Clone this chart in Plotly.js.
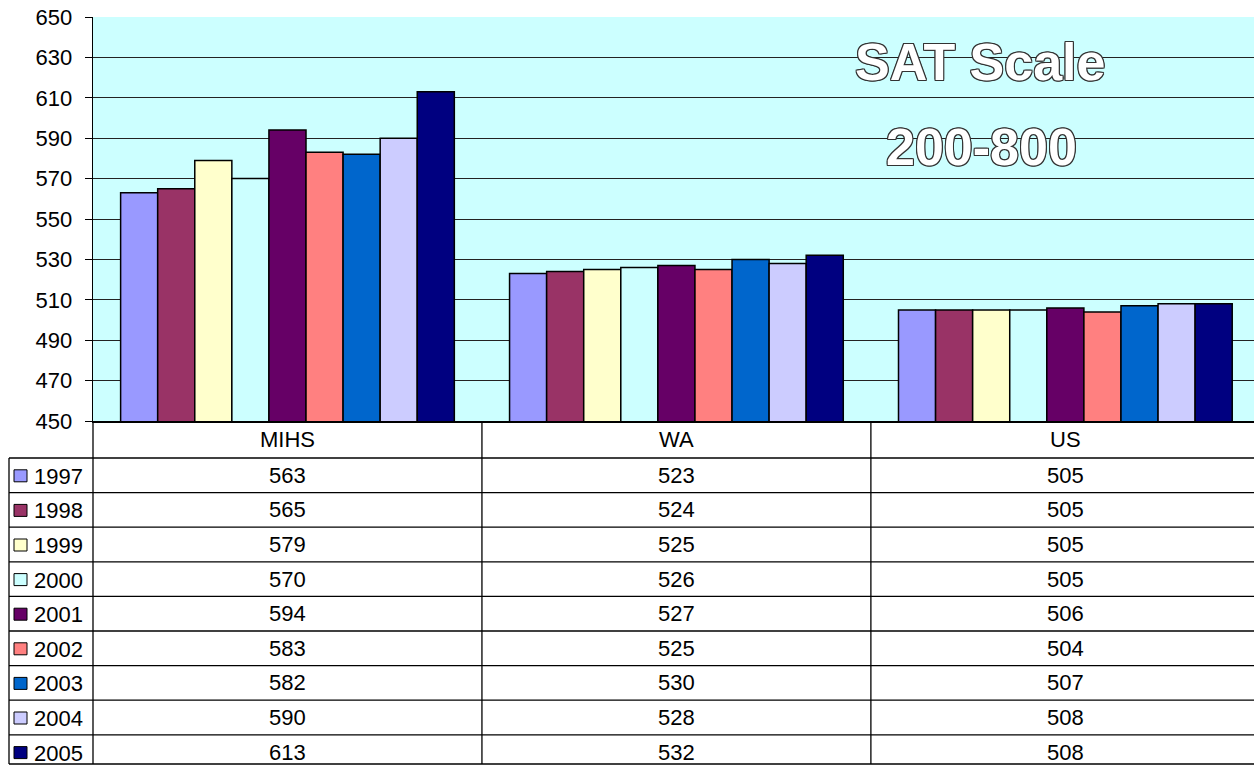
<!DOCTYPE html>
<html>
<head>
<meta charset="utf-8">
<script src="https://cdn.plot.ly/plotly-3.0.1.min.js"></script>
<style>html,body{margin:0;padding:0;background:#fff;}#chart{width:1254px;height:766px;}</style>
</head>
<body>
<div id="chart"></div>
<script>
const categories = ["MIHS", "WA", "US"];
const years = ["1997", "1998", "1999", "2000", "2001", "2002", "2003", "2004", "2005"];
const s1997 = [563, 523, 505];
const s1998 = [565, 524, 505];
const s1999 = [579, 525, 505];
const s2000 = [570, 526, 505];
const s2001 = [594, 527, 506];
const s2002 = [583, 525, 504];
const s2003 = [582, 530, 507];
const s2004 = [590, 528, 508];
const s2005 = [613, 532, 508];
const colors = ["#9999FF", "#993366", "#FFFFCC", "#CCFFFF", "#660066", "#FF8080", "#0066CC", "#CCCCFF", "#000080"];
const yTicks = [450, 470, 490, 510, 530, 550, 570, 590, 610, 630, 650];
const titleLines = ["SAT Scale", "200-800"];

const series = [s1997, s1998, s1999, s2000, s2001, s2002, s2003, s2004, s2005];
const FONT = "Liberation Sans, Arial, sans-serif";
const FS = 22;

// layout geometry (pixels)
const W = 1254, H = 766;
const L = 93, T = 17, B = 421;
const plotW = W - L, plotH = B - T;
const px = x => (x - L) / plotW;
const py = y => (B - y) / plotH;

const traces = series.map((vals, i) => ({
  type: "bar",
  name: years[i],
  x: categories,
  y: vals,
  marker: {color: colors[i], line: {color: "#000", width: 1.5}},
  showlegend: false,
  hoverinfo: "x+y+name"
}));

const shapes = [];
const annotations = [];
const lineStyle = {color: "#000", width: 1.3};

// table geometry
const headerTop = 421, headerBot = 458, rowH = 34.6, tableBot = 764;
const leftX = 9;
shapes.push({type: "line", xref: "paper", yref: "paper", x0: px(leftX), x1: px(leftX), y0: py(headerBot), y1: py(tableBot), line: lineStyle});
shapes.push({type: "line", xref: "paper", yref: "paper", x0: 0, x1: 0, y0: 0, y1: py(tableBot), line: lineStyle});
for (let c = 0; c < categories.length - 1; c++) {
  shapes.push({type: "line", xref: "x", yref: "paper", x0: c + 0.5, x1: c + 0.5, y0: 0, y1: py(tableBot), line: lineStyle});
}
for (let r = 0; r < years.length; r++) {
  const yy = headerBot + rowH * r;
  shapes.push({type: "line", xref: "paper", yref: "paper", x0: px(leftX), x1: 1.01, y0: py(yy), y1: py(yy), line: lineStyle});
}
shapes.push({type: "line", xref: "paper", yref: "paper", x0: px(leftX), x1: 1.01, y0: py(tableBot), y1: py(tableBot), line: lineStyle});

categories.forEach((c, i) => {
  annotations.push({xref: "x", yref: "paper", x: i, y: py((headerTop + headerBot) / 2), text: c, showarrow: false,
    font: {family: FONT, size: FS, color: "#000"}, xanchor: "center", yanchor: "middle"});
});
years.forEach((yr, r) => {
  const cy = headerBot + rowH * r + rowH / 2;
  shapes.push({type: "rect", xref: "paper", yref: "paper", x0: px(14), x1: px(27), y0: py(cy - 5.5), y1: py(cy + 6.5),
    fillcolor: colors[r], line: {color: "#000", width: 1}});
  annotations.push({xref: "paper", yref: "paper", x: px(32), y: py(cy + 1), text: yr, showarrow: false,
    font: {family: FONT, size: FS, color: "#000"}, xanchor: "left", yanchor: "middle"});
  series[r].forEach((v, i) => {
    annotations.push({xref: "x", yref: "paper", x: i, y: py(cy), text: String(v), showarrow: false,
      font: {family: FONT, size: FS, color: "#000"}, xanchor: "center", yanchor: "middle"});
  });
});

const outline = "1px 1px 0 #333, -1px -1px 0 #333, 1px -1px 0 #333, -1px 1px 0 #333, 0 1px 0 #333, 0 -1px 0 #333, 1px 0 0 #333, -1px 0 0 #333";
annotations.push({xref: "paper", yref: "paper", x: px(980), y: py(62), text: "<b>" + titleLines[0] + "</b>", showarrow: false,
  font: {family: FONT, size: 52, color: "#fff", shadow: outline}, xanchor: "center", yanchor: "middle"});
annotations.push({xref: "paper", yref: "paper", x: px(981), y: py(147), text: "<b>" + titleLines[1] + "</b>", showarrow: false,
  font: {family: FONT, size: 52, color: "#fff", shadow: outline}, xanchor: "center", yanchor: "middle"});

const layout = {
  width: W, height: H,
  margin: {l: L, r: 0, t: T, b: H - B, pad: 0},
  paper_bgcolor: "#fff",
  plot_bgcolor: "#CCFFFF",
  barmode: "group",
  bargap: 0.142,
  bargroupgap: 0,
  showlegend: false,
  font: {family: FONT, size: FS, color: "#000"},
  xaxis: {type: "category", range: [-0.5, 2.485], showticklabels: false, ticks: "", showgrid: false,
    showline: true, linecolor: "#000", linewidth: 2, zeroline: false, fixedrange: true},
  yaxis: {range: [450, 650], tickvals: yTicks, ticktext: yTicks.map(String), showgrid: true, gridcolor: "#222", gridwidth: 1,
    showline: true, linecolor: "#000", linewidth: 1.3, ticks: "outside", ticklen: 7, tickcolor: "#000", tickwidth: 1,
    ticklabelstandoff: 8, tickfont: {family: FONT, size: FS, color: "#000"}, zeroline: false, fixedrange: true},
  shapes: shapes,
  annotations: annotations
};

Plotly.newPlot("chart", traces, layout, {displayModeBar: false, staticPlot: true});
</script>
</body>
</html>
